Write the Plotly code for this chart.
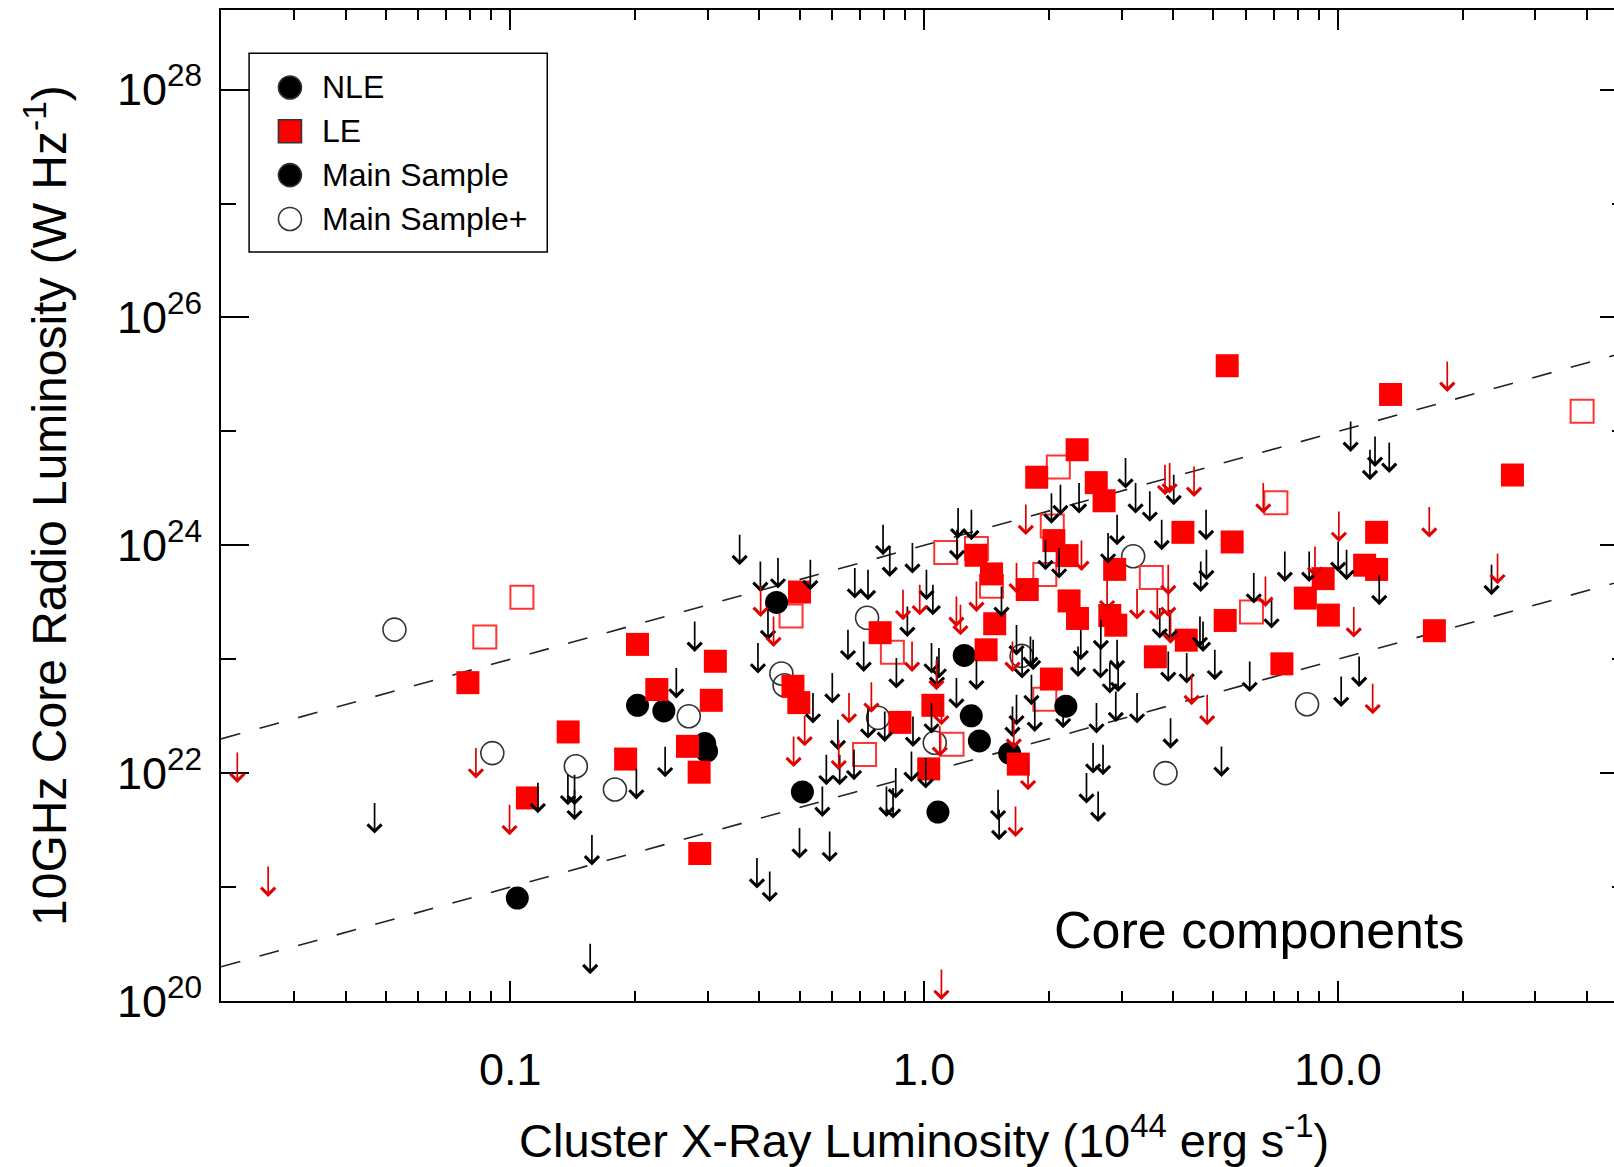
import math
import plotly.graph_objects as go

# ---------------------------------------------------------------------------
# Data: cluster X-ray luminosity (1e44 erg/s) vs 10 GHz core radio luminosity (W/Hz)
# ---------------------------------------------------------------------------

# NLE clusters, detected cores (Main Sample)
nle_x = [0.203, 0.235, 0.295, 0.298, 0.104, 0.440, 1.25, 1.30, 1.36, 2.20, 0.508, 1.08, 1.61]
nle_y = [3.94e22, 3.52e22, 1.82e22, 1.56e22, 8.0e20, 3.15e23, 1.08e23, 3.19e22, 1.92e22,
         3.87e22, 6.84e21, 4.56e21, 1.49e22]

# LE clusters, detected cores (Main Sample)
le_x = [0.0790, 0.203, 0.226, 0.313, 0.306, 0.138, 0.268, 0.286, 0.190, 0.110,
        0.287, 0.500, 0.482, 0.498, 0.783, 0.874, 1.05, 1.026, 1.335, 1.455,
        1.481, 1.412, 1.775, 1.871, 2.343, 2.606, 2.722, 2.058, 2.216, 2.887,
        2.240, 2.348, 2.81, 2.905, 2.03, 1.689, 3.62, 4.22, 5.55, 5.34,
        4.30, 7.32, 5.40, 13.4, 26.4, 12.4, 11.6, 12.4, 9.21, 8.34,
        9.48, 17.1]
le_y = [6.23e22, 1.35e23, 5.42e22, 9.60e22, 4.36e22, 2.30e22, 1.72e22, 1.02e22, 1.33e22, 6.06e21,
        1.97e21, 3.89e23, 5.79e22, 4.16e22, 1.71e23, 2.79e22, 3.94e22, 1.09e22, 8.18e23, 5.61e23,
        2.05e23, 1.21e23, 4.09e23, 3.96e24, 6.90e24, 3.55e24, 2.46e24, 1.10e24, 8.12e23, 6.15e23,
        3.25e23, 2.28e23, 2.42e23, 1.99e23, 6.70e22, 1.20e22, 1.05e23, 1.30e24, 1.07e24, 2.19e23,
        1.47e23, 9.11e22, 3.77e25, 2.11e25, 4.14e24, 1.30e24, 6.69e23, 6.14e23, 5.10e23, 3.44e23,
        2.44e23, 1.78e23]

# NLE clusters, detected cores (Main Sample+)
nle_plus_x = [0.0525, 0.0905, 0.144, 0.179, 0.270, 0.452, 0.460, 0.728, 0.774, 1.061,
              1.72, 3.20, 3.83, 8.42]
nle_plus_y = [1.82e23, 1.50e22, 1.15e22, 7.18e21, 3.16e22, 7.49e22, 5.91e22, 2.31e23, 3.06e22, 1.85e22,
              1.07e23, 8.02e23, 1.00e22, 4.03e22]

# LE clusters, detected cores (Main Sample+)
le_plus_x = [0.1067, 0.0868, 0.477, 0.838, 1.128, 1.338, 1.455, 2.11, 2.04, 1.957,
             3.54, 1.957, 1.168, 0.718, 7.08, 38.9, 6.18]
le_plus_y = [3.50e23, 1.57e23, 2.40e23, 1.15e23, 8.65e23, 9.4e23, 4.38e23, 4.88e24, 1.48e24, 5.54e23,
             5.21e23, 4.45e22, 1.79e22, 1.46e22, 2.36e24, 1.50e25, 2.60e23]

# NLE clusters, core upper limits
nle_lim_x = [0.0470, 0.156, 0.1575, 0.1166, 0.1378, 0.1430, 0.1430, 0.2017, 0.2367, 0.2519,
             0.279, 0.3583, 0.3945, 0.4236, 0.500, 0.5912, 0.5677, 0.3967, 0.4195, 0.4021,
             0.4435, 0.531, 0.600, 0.5388, 0.619, 0.5804, 0.6252, 0.677, 0.7318, 0.8033,
             0.854, 0.811, 0.8412, 0.932, 1.009, 0.940, 1.042, 1.074, 1.197, 1.338,
             1.509, 1.518, 1.672, 1.635, 1.851, 1.817, 2.167, 2.609, 2.560, 2.706,
             2.468, 2.633, 2.905, 3.27, 2.81, 2.943, 2.355, 2.668, 0.6546, 0.7145,
             0.857, 0.680, 0.7318, 0.7957, 0.826, 0.937, 0.911, 1.013, 1.05, 1.042,
             1.086, 1.208, 1.301, 1.201, 1.538, 1.672, 1.807, 1.725, 1.834, 2.391,
             2.673, 2.135, 2.031, 2.368, 3.067, 3.243, 2.926, 2.783, 1.965, 2.119,
             10.73, 12.29, 13.30, 11.95, 4.01, 3.51, 3.75, 4.80, 4.81, 4.66,
             6.26, 7.44, 8.52, 10.01, 10.49, 12.58, 23.5, 6.91, 3.71, 3.92,
             4.64, 4.72, 2.926, 3.89, 4.31, 5.04, 6.12, 11.25, 10.18, 3.94,
             5.23]
nle_lim_y = [2.95e21, 1.72e20, 1.55e21, 4.45e21, 5.23e21, 5.23e21, 3.86e21, 5.87e21, 9.20e21, 4.52e22,
             1.16e23, 6.69e23, 9.70e20, 7.40e20, 1.78e21, 1.66e21, 4.13e21, 7.49e22, 1.47e23, 3.90e23,
             4.18e23, 4.04e23, 4.08e22, 2.73e22, 1.59e22, 7.83e21, 7.83e21, 8.66e21, 2.01e22, 1.88e22,
             5.98e21, 4.13e21, 3.99e21, 8.37e21, 7.32e21, 1.70e22, 2.23e22, 5.71e22, 3.69e22, 5.34e22,
             3.86e21, 2.58e21, 2.63e22, 2.08e22, 2.30e22, 3.95e22, 2.48e22, 2.23e22, 9.92e21, 9.59e21,
             5.41e21, 3.73e21, 2.81e22, 2.73e22, 5.00e22, 5.16e22, 6.99e22, 6.77e22, 9.80e22, 7.74e22,
             5.53e22, 3.41e23, 3.30e23, 8.18e23, 5.28e23, 5.65e23, 1.57e23, 3.30e23, 2.43e23, 7.49e22,
             6.77e22, 1.15e24, 1.11e24, 7.40e23, 2.35e23, 1.08e23, 8.56e22, 6.77e22, 8.01e22, 9.80e22,
             1.20e23, 1.84e24, 1.55e24, 1.90e24, 3.15e24, 1.90e24, 1.00e24, 6.92e23, 6.05e23, 5.11e23,
             6.61e24, 4.88e24, 4.32e24, 3.73e24, 2.25e24, 1.61e24, 9.06e23, 1.11e24, 4.94e23, 3.90e23,
             3.08e23, 4.77e23, 4.77e23, 5.84e23, 4.94e23, 2.98e23, 3.65e23, 1.86e23, 1.52e23, 1.47e23,
             1.28e23, 1.16e23, 8.01e22, 6.32e22, 6.12e22, 6.54e22, 5.16e22, 5.71e22, 3.81e22, 1.64e22,
             9.26e21]

# LE clusters, core upper limits
le_lim_x = [0.0219, 0.0260, 0.0826, 0.0996, 0.4027, 0.4327, 0.4838, 0.5145, 0.6584, 0.6219,
            0.7457, 0.8892, 0.9759, 0.935, 1.071, 1.101, 1.091, 1.101, 1.197, 1.224,
            1.338, 1.663, 1.783, 1.647, 1.635, 1.672, 1.761, 2.40, 2.768, 3.27,
            18.37, 3.82, 3.92, 4.49, 6.60, 10.05, 16.62, 3.89, 3.66, 3.89,
            6.68, 8.80, 24.3, 10.92, 3.94, 4.43, 4.83, 12.13]
le_lim_y = [8.20e21, 8.19e20, 8.97e21, 2.85e21, 2.35e23, 1.28e23, 1.13e22, 1.72e22, 2.73e22, 1.06e22,
            3.39e22, 2.20e23, 2.43e23, 7.74e22, 5.34e22, 2.63e22, 1.39e22, 1.02e20, 1.92e23, 1.62e23,
            2.60e23, 2.75e21, 7.08e21, 1.64e22, 7.74e22, 3.78e23, 1.23e24, 5.96e23, 2.69e23, 2.23e23,
            2.22e25, 2.75e24, 2.85e24, 2.66e24, 1.90e24, 1.07e24, 1.17e24, 3.65e23, 2.20e23, 2.35e23,
            2.88e23, 5.28e23, 4.55e23, 1.55e23, 1.37e23, 3.95e22, 2.63e22, 3.29e22]

# Linear (slope 1) reference relations
rel_x = [0.02, 50.0]
rel_hi_y = [2e22, 5e25]
rel_lo_y = [2e20, 5e23]

# Axis ticks
x_tick_vals = [0.1, 1.0, 10.0]
x_tick_text = ["0.1", "1.0", "10.0"]
x_minor_vals = [0.03, 0.04, 0.05, 0.06, 0.07, 0.08, 0.09,
                0.2, 0.3, 0.4, 0.5, 0.6, 0.7, 0.8, 0.9,
                2, 3, 4, 5, 6, 7, 8, 9, 20, 30, 40]
y_tick_vals = [1e20, 1e22, 1e24, 1e26, 1e28]
y_tick_text = ["10<sup>20</sup>", "10<sup>22</sup>", "10<sup>24</sup>", "10<sup>26</sup>", "10<sup>28</sup>"]
y_minor_vals = [1e21, 1e23, 1e25, 1e27]

legend_labels = ["NLE", "LE", "Main Sample", "Main Sample+"]

FONT = "Liberation Sans, Arial, Helvetica, sans-serif"
RED = "#ff0000"
LIMIT_RED = "#e00000"

fig = go.Figure()

dash_line = dict(color="#222222", width=1.6, dash="20px,20px")
fig.add_trace(go.Scatter(x=rel_x, y=rel_hi_y, mode="lines", line=dash_line, hoverinfo="skip"))
fig.add_trace(go.Scatter(x=rel_x, y=rel_lo_y, mode="lines", line=dash_line, hoverinfo="skip"))

fig.add_trace(go.Scatter(x=nle_plus_x, y=nle_plus_y, mode="markers",
                         marker=dict(symbol="circle-open", size=23, color="#333333",
                                     line=dict(width=1.6))))
fig.add_trace(go.Scatter(x=le_plus_x, y=le_plus_y, mode="markers",
                         marker=dict(symbol="square-open", size=23, color="#ff3333",
                                     line=dict(width=2))))
fig.add_trace(go.Scatter(x=nle_x, y=nle_y, mode="markers",
                         marker=dict(symbol="circle", size=23, color="black",
                                     line=dict(width=0))))
fig.add_trace(go.Scatter(x=le_x, y=le_y, mode="markers",
                         marker=dict(symbol="square", size=23, color=RED,
                                     line=dict(width=0))))

# Upper limits as downward arrows (head at the plotted value)
for xs, ys, col in ((nle_lim_x, nle_lim_y, "black"), (le_lim_x, le_lim_y, LIMIT_RED)):
    for xv, yv in zip(xs, ys):
        fig.add_annotation(x=math.log10(xv), y=math.log10(yv), xref="x", yref="y",
                           text="", showarrow=True, axref="pixel", ayref="pixel",
                           ax=0, ay=-31, arrowhead=4, arrowsize=1.6, arrowwidth=1.7,
                           arrowcolor=col, standoff=0, borderpad=0,
                           font=dict(size=1))

# Right-hand tick marks
fig.add_trace(go.Scatter(x=[], y=[], yaxis="y2", hoverinfo="skip"))

# Legend key
fig.add_trace(go.Scatter(
    x=[0.137] * 4, y=[0, 1, 2, 3], xaxis="x3", yaxis="y3", mode="markers",
    marker=dict(symbol=["circle", "square", "circle", "circle-open"], size=23,
                color=["black", RED, "black", "#333333"], line=dict(width=1.6, color="#333333")),
    hoverinfo="skip"))
for i, lab in enumerate(legend_labels):
    fig.add_annotation(x=0.2374, y=i, xref="x3", yref="y3", text=lab, showarrow=False,
                       xanchor="left", yanchor="middle", font=dict(size=32, color="black"))
fig.add_shape(type="rect", xref="paper", yref="paper", x0=0.02017, x1=0.2342, y0=0.7557, y1=0.9563,
              line=dict(color="black", width=1.5), fillcolor="rgba(0,0,0,0)")

fig.add_annotation(text="Core components", xref="paper", yref="paper", x=0.5964, y=0.0721,
                   xanchor="left", yanchor="middle", showarrow=False,
                   font=dict(size=52, color="black"))

# Axis titles
fig.add_annotation(text="Cluster X-Ray Luminosity (10<sup>44</sup> erg s<sup>-1</sup>)",
                   xref="paper", yref="paper", x=0.5048, y=-0.1375, xanchor="center",
                   yanchor="middle", showarrow=False, font=dict(size=47, color="black"))
fig.add_annotation(text="10GHz Core Radio Luminosity (W Hz<sup>-1</sup>)",
                   xref="paper", yref="paper", x=-0.1257, y=0.5005, xanchor="center",
                   yanchor="middle", textangle=-90, showarrow=False,
                   font=dict(size=48, color="black"))

y_range = [20, math.log10(5e28)]
fig.update_layout(
    width=1614, height=1167,
    margin=dict(l=221, r=0, t=10, b=166, pad=0),
    paper_bgcolor="white", plot_bgcolor="white",
    showlegend=False,
    font=dict(family=FONT, color="black"),
    xaxis=dict(type="log", range=[math.log10(0.02), 1.667],
               tickmode="array", tickvals=x_tick_vals, ticktext=x_tick_text,
               ticks="inside", ticklen=20, tickwidth=1.5, tickcolor="black",
               showline=True, linewidth=2, linecolor="black", mirror="ticks",
               showgrid=False, zeroline=False, tickfont=dict(size=45),
               ticklabelstandoff=28,
               minor=dict(tickmode="array", tickvals=x_minor_vals, ticks="inside",
                          ticklen=10, tickwidth=1.5, tickcolor="black", showgrid=False)),
    yaxis=dict(type="log", range=y_range,
               tickmode="array", tickvals=y_tick_vals, ticktext=y_tick_text,
               ticks="inside", ticklen=28, tickwidth=1.5, tickcolor="black",
               showline=True, linewidth=2, linecolor="black",
               showgrid=False, zeroline=False, tickfont=dict(size=45),
               ticklabelstandoff=8,
               minor=dict(tickmode="array", tickvals=y_minor_vals, ticks="inside",
                          ticklen=15, tickwidth=1.5, tickcolor="black", showgrid=False)),
    yaxis2=dict(type="log", range=y_range, overlaying="y", side="right", anchor="x",
                tickmode="array", tickvals=y_tick_vals, ticks="inside", ticklen=14,
                tickwidth=1.5, tickcolor="black", showticklabels=False, showline=False,
                showgrid=False, zeroline=False,
                minor=dict(tickmode="array", tickvals=y_minor_vals, ticks="inside",
                           ticklen=2, tickwidth=1.5, tickcolor="black", showgrid=False)),
    xaxis3=dict(domain=[0.02017, 0.2342], range=[0, 1], anchor="y3", visible=False,
                fixedrange=True),
    yaxis3=dict(domain=[0.7557, 0.9563], range=[3.757, -0.78], anchor="x3", visible=False,
                fixedrange=True),
)

fig.write_html("out.html")
